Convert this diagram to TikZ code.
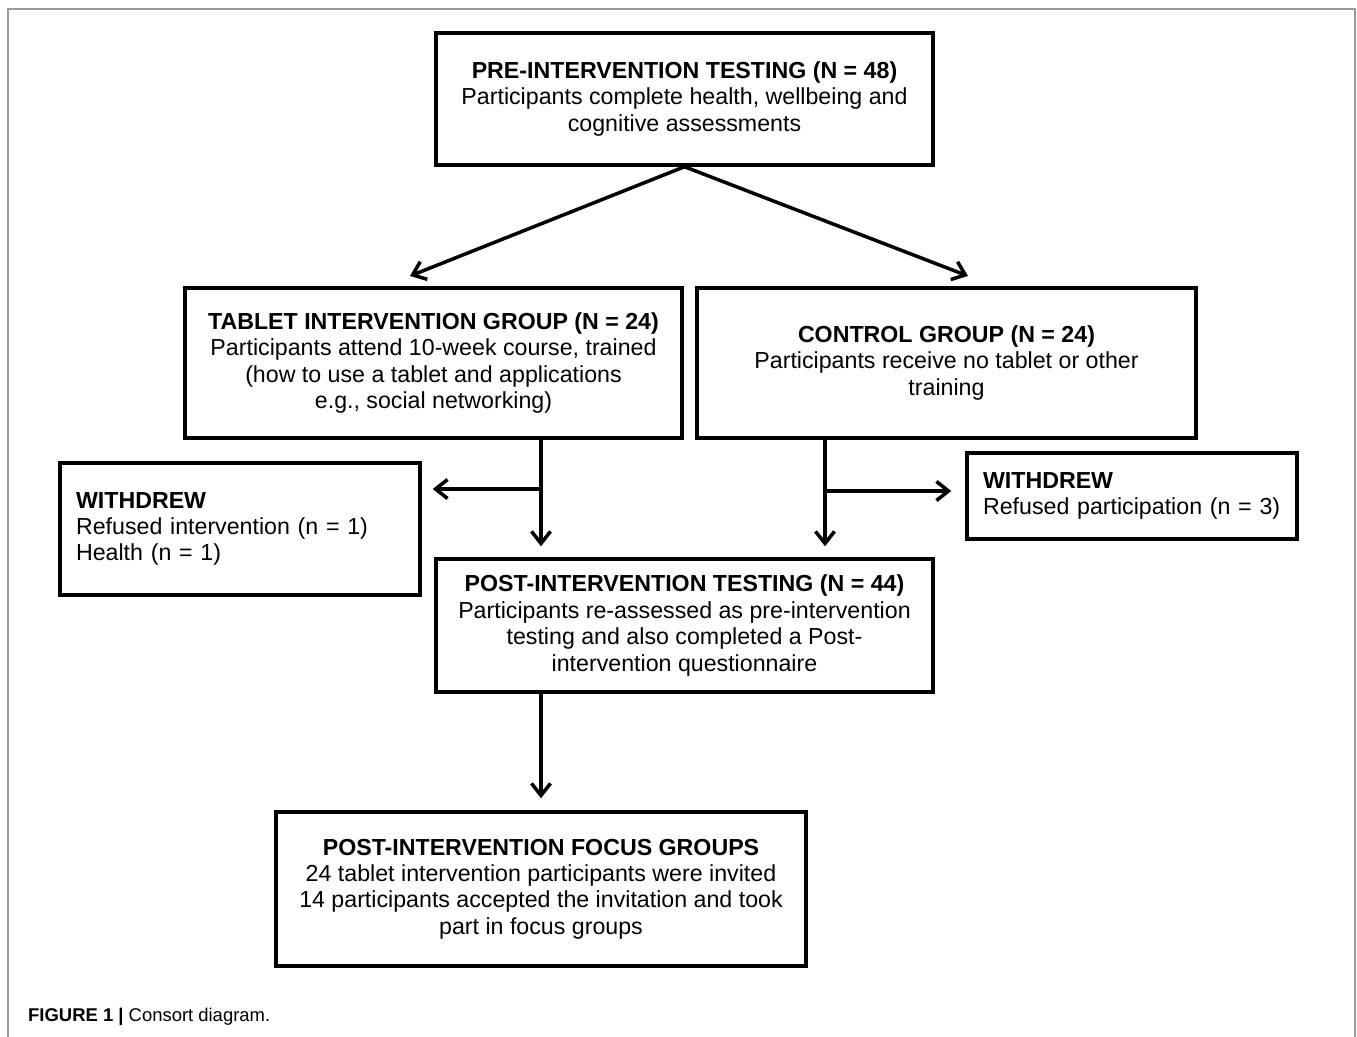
\documentclass[tikz,border=0pt]{standalone}
\usepackage{fontspec}
\setmainfont{Liberation Sans}
\usetikzlibrary{positioning,calc,arrows.meta}

\tikzset{
  box/.style={draw, line width=2pt, align=center, inner sep=0pt,
    font=\fontsize{13.2}{15}\selectfont},
  sidebox/.style={box, align=left, inner xsep=0.32cm},
  flow/.style={line width=2pt, -{Straight Barb[length=2.4mm, width=3.8mm]}},
}

\begin{document}
\begin{tikzpicture}[x=0.02cm, y=-0.02cm]
  \useasboundingbox (0,0) rectangle (1357,1037);
  % figure frame
  \draw[gray!80, line width=1.1pt] (8,1037) -- (8,9) -- (1355,9) -- (1355,1037);

  % boxes
  \node[box, minimum width=9.94cm, minimum height=2.64cm] (pre) at (684.5,99)
    {\textbf{PRE-INTERVENTION TESTING (N = 48)}\\
     Participants complete health, wellbeing and\\
     cognitive assessments};
  \node[box, minimum width=9.94cm, minimum height=3.0cm] (tablet) at (433.5,363)
    {\textbf{TABLET INTERVENTION GROUP (N = 24)}\\
     Participants attend 10-week course, trained\\
     (how to use a tablet and applications\\
     e.g., social networking)};
  \node[box, minimum width=9.98cm, minimum height=3.0cm] (control) at (946.5,363)
    {\textbf{CONTROL GROUP (N = 24)}\\
     Participants receive no tablet or other\\
     training};
  \node[sidebox, text width=6.56cm, minimum height=2.64cm] (wleft) at (240,529)
    {\textbf{WITHDREW}\\
     Refused intervention (n = 1)\\
     Health (n = 1)};
  \node[sidebox, text width=5.96cm, minimum height=1.72cm] (wright) at (1132,496)
    {\textbf{WITHDREW}\\
     Refused participation (n = 3)};
  \node[box, minimum width=9.94cm, minimum height=2.66cm] (post) at (684.5,625.5)
    {\textbf{POST-INTERVENTION TESTING (N = 44)}\\
     Participants re-assessed as pre-intervention\\
     testing and also completed a Post-\\
     intervention questionnaire};
  \node[box, minimum width=10.6cm, minimum height=3.08cm] (focus) at (541,889)
    {\textbf{POST-INTERVENTION FOCUS GROUPS}\\
     24 tablet intervention participants were invited\\
     14 participants accepted the invitation and took\\
     part in focus groups};

  % connectors
  \coordinate (ltarget) at (410,276);
  \coordinate (rtarget) at (968,276);
  \coordinate (lsplit) at (541,489);
  \coordinate (rsplit) at (825,491);
  \draw[flow] (pre.south) -- (ltarget);
  \draw[flow] (pre.south) -- (rtarget);
  \draw[flow, shorten >=0.22cm] (tablet.south -| lsplit) -- (post.north -| lsplit);
  \draw[flow, shorten >=0.22cm] (lsplit) -- (wleft.east |- lsplit);
  \draw[flow, shorten >=0.22cm] (control.south -| rsplit) -- (post.north -| rsplit);
  \draw[flow, shorten >=0.28cm] (rsplit) -- (wright.west |- rsplit);
  \draw[flow, shorten >=0.24cm] (post.south -| focus.north) -- (focus.north);

  % caption
  \node[anchor=west, font=\fontsize{10.5}{12}\selectfont] (caption) at (22,1017)
    {\textbf{FIGURE 1 |} Consort diagram.};
\end{tikzpicture}
\end{document}
